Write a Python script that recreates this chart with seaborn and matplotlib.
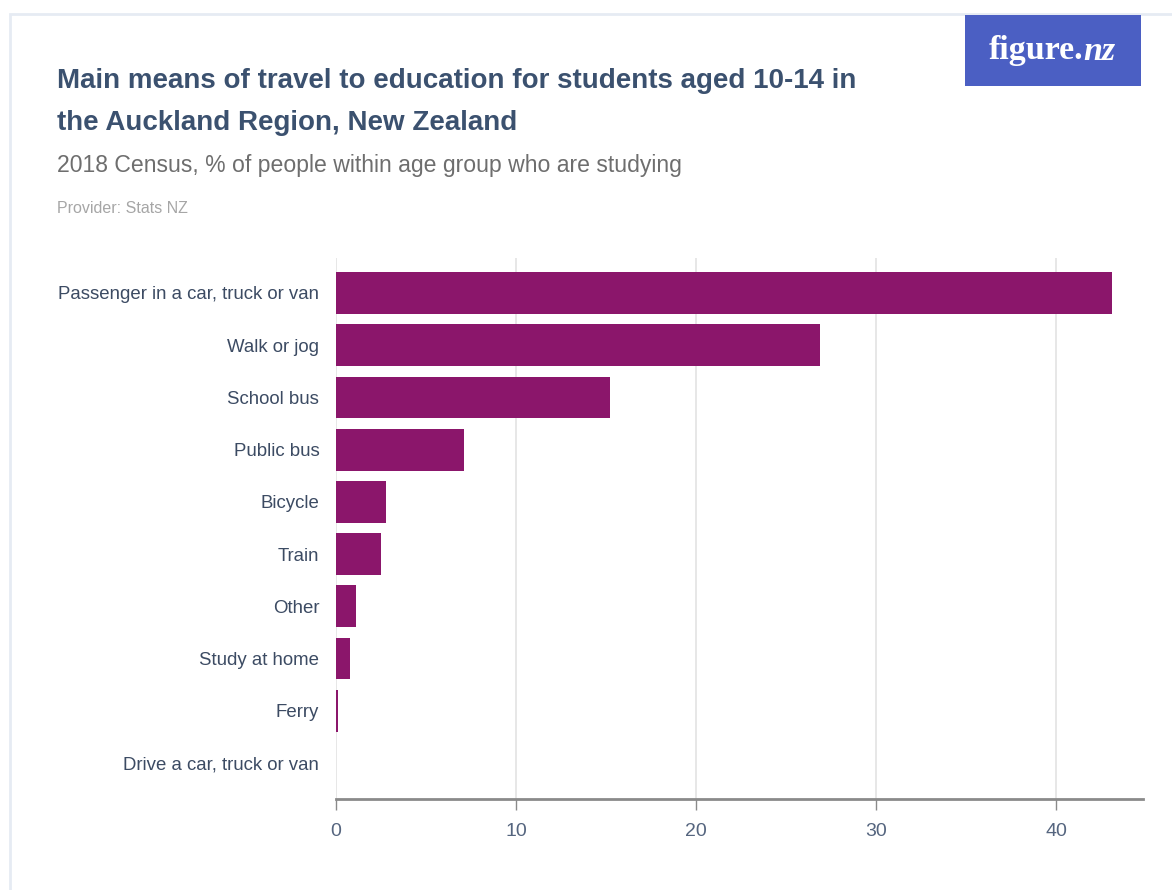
import matplotlib
matplotlib.use("Agg")
import matplotlib.pyplot as plt
import matplotlib.patches as mpatches
import seaborn as sns
import pandas as pd

categories = [
    "Passenger in a car, truck or van",
    "Walk or jog",
    "School bus",
    "Public bus",
    "Bicycle",
    "Train",
    "Other",
    "Study at home",
    "Ferry",
    "Drive a car, truck or van",
]
values = [43.1, 26.9, 15.2, 7.1, 2.8, 2.5, 1.1, 0.8, 0.1, 0.0]
x_ticks = [0, 10, 20, 30, 40]

sns.set_theme(style="white")
plt.rcParams["font.family"] = ["Liberation Sans", "DejaVu Sans"]

df = pd.DataFrame({"mode": categories, "pct": values})

fig = plt.figure(figsize=(11.72, 8.9), dpi=100)
fig.patch.set_facecolor("white")

# card outline
fig.patches.append(mpatches.Rectangle((10 / 1172, -0.1), 1.2, 1 - 14 / 890 + 0.1,
                                      transform=fig.transFigure, facecolor="none",
                                      edgecolor="#e6ebf3", linewidth=2))

ax = fig.add_axes([336 / 1172, 1 - 799 / 890, (1143 - 336) / 1172, (799 - 258) / 890])
sns.barplot(data=df, y="mode", x="pct", orient="h", color="#8b166b",
            saturation=1, width=0.8, linewidth=0, ax=ax)

ax.set_xlim(0, 44.83)
ax.set_ylim(9.69, -0.67)
ax.set_xticks(x_ticks)
ax.set_xticklabels([str(t) for t in x_ticks])
ax.set_xlabel("")
ax.set_ylabel("")
ax.grid(axis="x", color="#e3e3e3", linewidth=1.2)
ax.grid(axis="y", visible=False)
ax.set_axisbelow(True)
for s in ["top", "right", "left"]:
    ax.spines[s].set_visible(False)
ax.spines["bottom"].set_color("#8a8a8a")
ax.spines["bottom"].set_linewidth(2)
ax.tick_params(axis="x", which="both", bottom=True, length=8, width=1, color="#8a8a8a",
               labelsize=14, labelcolor="#55657f", pad=9)
ax.tick_params(axis="y", left=False, labelsize=13.4, labelcolor="#3c4b63", pad=6)

# header texts
fig.text(57 / 1172, 1 - 88 / 890, "Main means of travel to education for students aged 10-14 in",
         fontsize=20, fontweight="bold", color="#3b516f", ha="left", va="baseline")
fig.text(57 / 1172, 1 - 130 / 890, "the Auckland Region, New Zealand",
         fontsize=20, fontweight="bold", color="#3b516f", ha="left", va="baseline")
fig.text(57 / 1172, 1 - 172 / 890, "2018 Census, % of people within age group who are studying",
         fontsize=16.6, color="#6e6e6e", ha="left", va="baseline")
fig.text(57 / 1172, 1 - 213 / 890, "Provider: Stats NZ",
         fontsize=11.5, color="#a6a6a6", ha="left", va="baseline")

# logo
fig.patches.append(mpatches.Rectangle((965 / 1172, 1 - 86 / 890), 176 / 1172, 71 / 890,
                                      transform=fig.transFigure, facecolor="#4b5fc3",
                                      edgecolor="none"))
fig.text(1083 / 1172, 1 - 51 / 890, "figure.", fontsize=24.5, color="white", fontweight="bold",
         family=["Liberation Serif", "DejaVu Serif"], ha="right", va="center")
fig.text(1083 / 1172, 1 - 51 / 890, "nz", fontsize=24.5, color="white", style="italic",
         fontweight="bold", family=["Liberation Serif", "DejaVu Serif"], ha="left", va="center")

fig.savefig("out.png", dpi=100, facecolor="white")
